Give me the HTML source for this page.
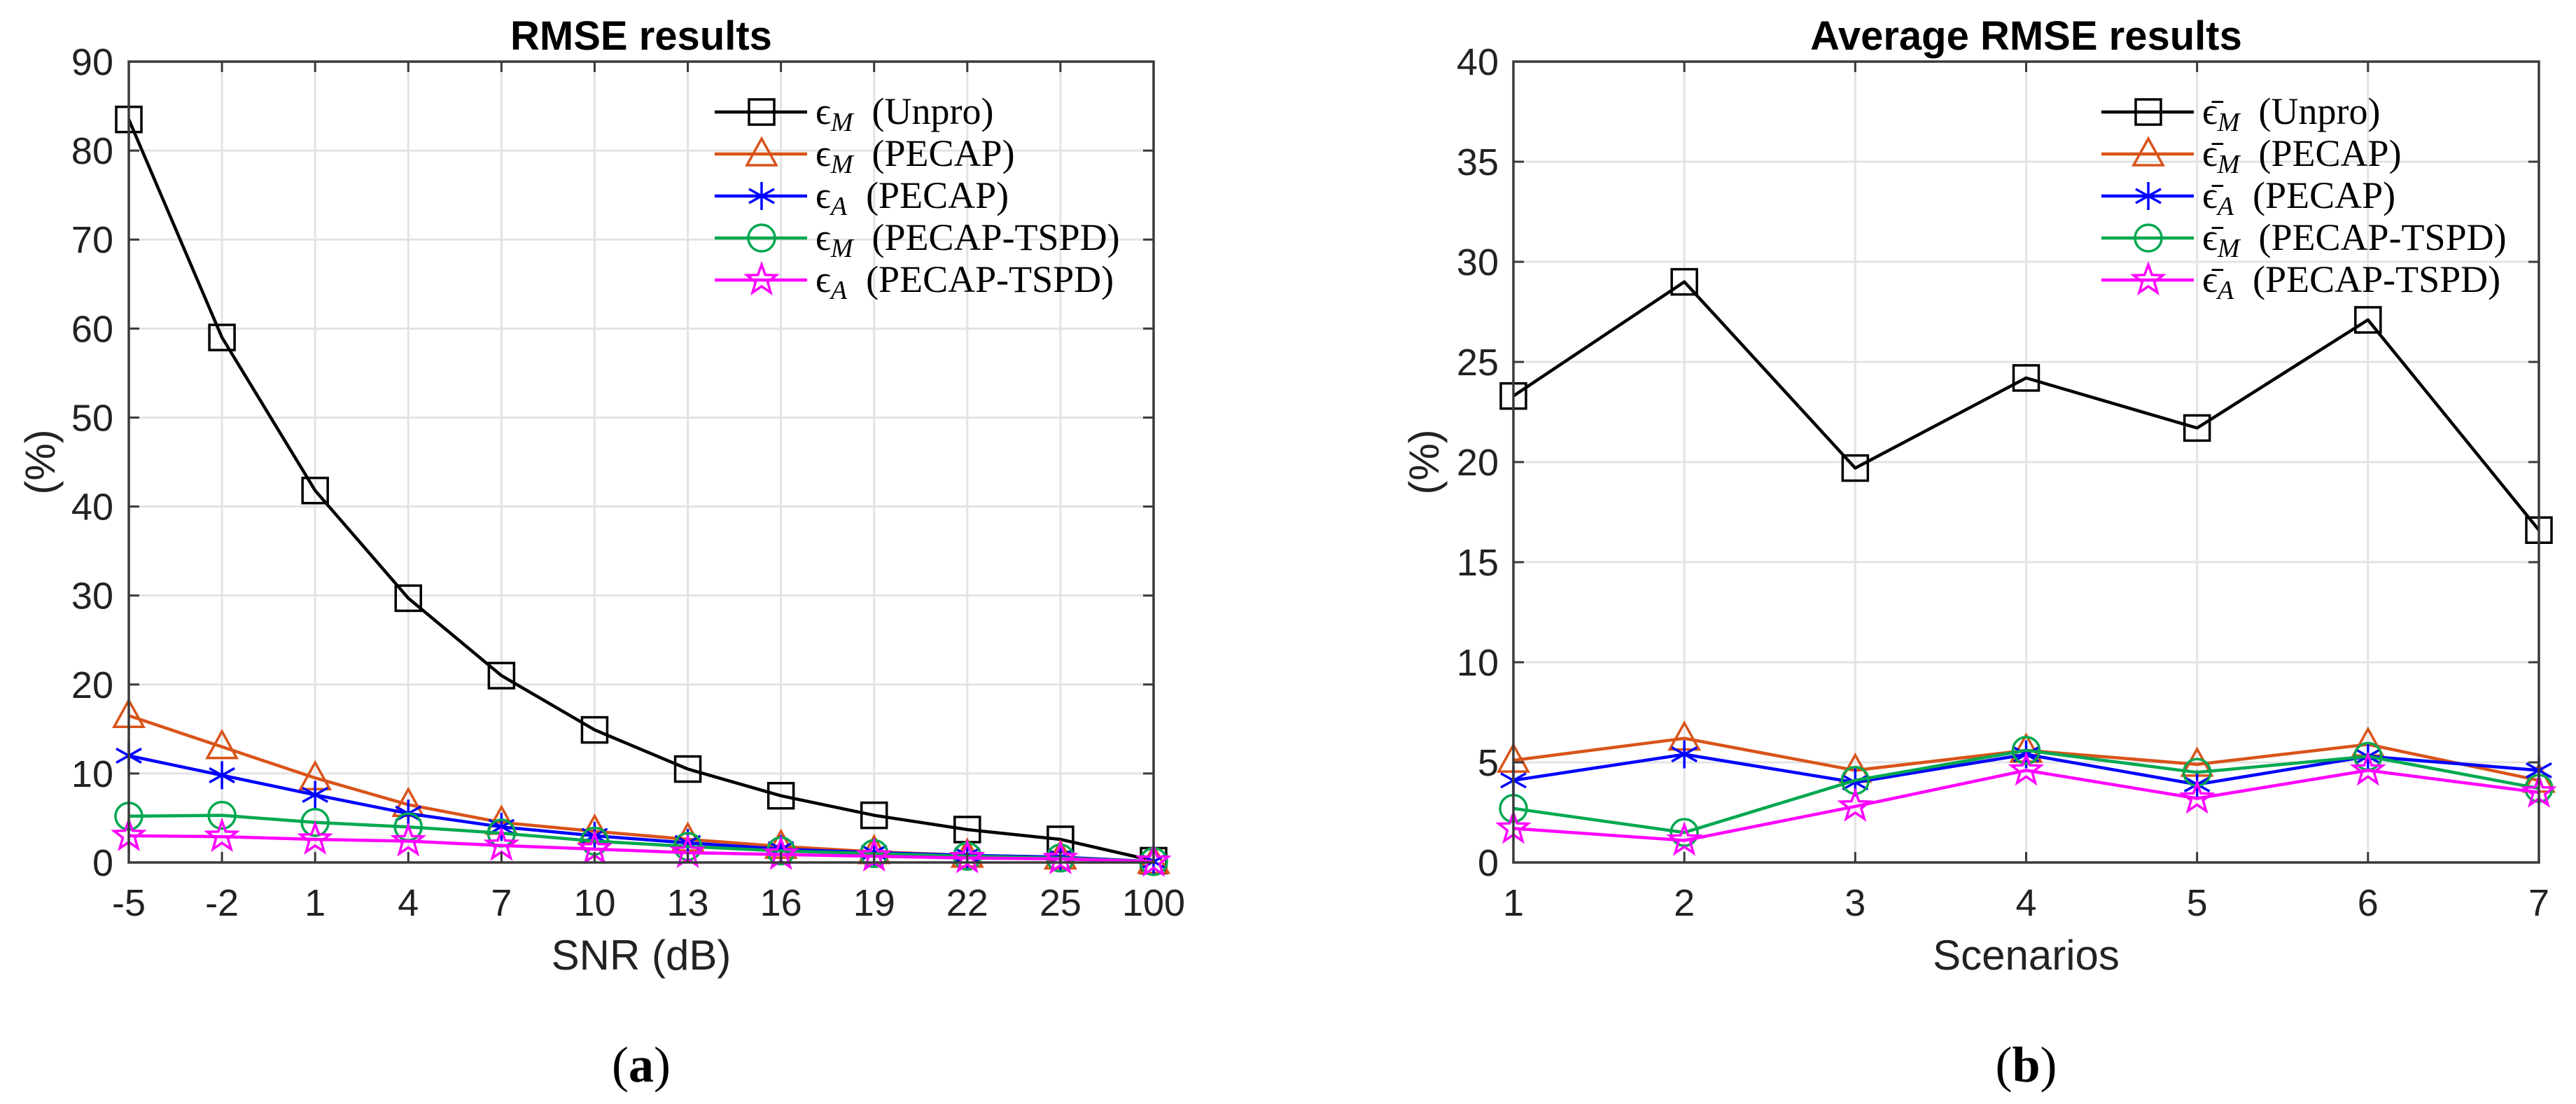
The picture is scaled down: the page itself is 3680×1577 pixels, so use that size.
<!DOCTYPE html>
<html><head><meta charset="utf-8"><style>
html,body{margin:0;padding:0;background:#fff;}
svg{display:block;}
</style></head><body>
<svg id="fig" width="3680" height="1577" viewBox="0 0 3680 1577" xmlns="http://www.w3.org/2000/svg"></svg>
<script>
// ---- Chart (a) data ----
const snrCategories = ["-5","-2","1","4","7","10","13","16","19","22","25","100"];
const aUnpro  = [83.5, 59.0, 41.8, 29.7, 21.0, 14.9, 10.5, 7.5, 5.3, 3.7, 2.6, 0.2];
const aPecapM = [16.5, 13.0, 9.5, 6.5, 4.5, 3.5, 2.6, 1.8, 1.2, 0.8, 0.6, 0.1];
const aPecapA = [12.0, 9.8, 7.6, 5.5, 4.0, 3.0, 2.2, 1.5, 1.1, 0.8, 0.6, 0.1];
const aTspdM  = [5.2, 5.3, 4.5, 4.0, 3.3, 2.4, 1.8, 1.3, 1.0, 0.7, 0.5, 0.1];
const aTspdA  = [3.0, 2.9, 2.6, 2.4, 1.9, 1.5, 1.1, 0.9, 0.7, 0.5, 0.4, 0.1];
const aYTicks = [0,10,20,30,40,50,60,70,80,90];
// ---- Chart (b) data ----
const scenCategories = ["1","2","3","4","5","6","7"];
const bUnpro  = [23.3, 29.0, 19.7, 24.2, 21.7, 27.1, 16.6];
const bPecapM = [5.1, 6.2, 4.6, 5.6, 4.9, 5.9, 4.1];
const bPecapA = [4.1, 5.4, 4.0, 5.4, 3.9, 5.3, 4.6];
const bTspdM  = [2.7, 1.5, 4.1, 5.6, 4.5, 5.3, 3.7];
const bTspdA  = [1.7, 1.1, 2.8, 4.6, 3.2, 4.6, 3.5];
const bYTicks = [0,5,10,15,20,25,30,35,40];

const NS="http://www.w3.org/2000/svg";
const svg=document.getElementById('fig');
function mk(tag,attrs,parent){const e=document.createElementNS(NS,tag);for(const k in attrs)e.setAttribute(k,attrs[k]);(parent||svg).appendChild(e);return e;}

const COLORS=["#000000","#D95319","#0000FF","#00A84F","#FF00FF"];
const MARKERS=["square","triangle","star","circle","pentagram"];

function marker(g,type,x,y,c){
  const s=18;
  if(type==="square"){return mk('rect',{x:x-s,y:y-s,width:2*s,height:2*s,fill:'none',stroke:c,'stroke-width':3.5},g);}
  if(type==="triangle"){return mk('polygon',{points:`${x},${y-22} ${x-21},${y+16} ${x+21},${y+16}`,fill:'none',stroke:c,'stroke-width':3.5},g);}
  if(type==="circle"){return mk('circle',{cx:x,cy:y,r:19,fill:'none',stroke:c,'stroke-width':3.5},g);}
  if(type==="star"){
    const d=`M${x} ${y-20}L${x} ${y+20}M${x-18} ${y-10}L${x+18} ${y+10}M${x-18} ${y+10}L${x+18} ${y-10}`;
    return mk('path',{d:d,fill:'none',stroke:c,'stroke-width':3.5},g);}
  if(type==="pentagram"){let pts=[];for(let i=0;i<10;i++){const r=i%2?9:22;const a=-Math.PI/2+i*Math.PI/5;pts.push((x+r*Math.cos(a)).toFixed(1)+","+(y+r*Math.sin(a)).toFixed(1));}
    return mk('polygon',{points:pts.join(' '),fill:'none',stroke:c,'stroke-width':3.5},g);}
}

function drawChart(cfg){
  const {L,R,T,B,cats,yticks,ymax,series,labels,title,xlabel,ylabelX,tickRight,name,legX,sub,bar}=cfg;
  const g=mk('g',{});
  
  
  const xs=i=>L+(R-L)*i/(cats.length-1);
  const ys=v=>B-(B-T)*v/ymax;
  mk('rect',{x:L,y:T,width:R-L,height:B-T,fill:'#fff'},g);
  cats.forEach((c,i)=>{const l=mk('line',{x1:xs(i),x2:xs(i),y1:T,y2:B,stroke:'#e3e3e3','stroke-width':3},g);});
  yticks.forEach(v=>{const l=mk('line',{x1:L,x2:R,y1:ys(v),y2:ys(v),stroke:'#e3e3e3','stroke-width':3},g);});
  series.forEach((data,si)=>{
    const sg=mk('g',{},g);
    
    
    const pts=data.map((v,i)=>xs(i).toFixed(1)+","+ys(v).toFixed(1)).join(' ');
    mk('polyline',{points:pts,fill:'none',stroke:COLORS[si],'stroke-width':4.5,'stroke-linejoin':'round'},sg);
    data.forEach((v,i)=>{const m=marker(sg,MARKERS[si],xs(i),ys(v),COLORS[si]);});
  });
  const bx=mk('rect',{x:L,y:T,width:R-L,height:B-T,fill:'none',stroke:'#3a3a3a','stroke-width':3.5},g);
  
  cats.forEach((c,i)=>{
    mk('line',{x1:xs(i),x2:xs(i),y1:B,y2:B-15,stroke:'#3a3a3a','stroke-width':3},g);
    mk('line',{x1:xs(i),x2:xs(i),y1:T,y2:T+15,stroke:'#3a3a3a','stroke-width':3},g);
    const t=mk('text',{x:xs(i),y:1308,'text-anchor':'middle','font-family':'Liberation Sans, sans-serif','font-size':54,fill:'#222'},g);
    t.textContent=c;
  });
  yticks.forEach(v=>{
    mk('line',{x1:L,x2:L+15,y1:ys(v),y2:ys(v),stroke:'#3a3a3a','stroke-width':3},g);
    mk('line',{x1:R,x2:R-15,y1:ys(v),y2:ys(v),stroke:'#3a3a3a','stroke-width':3},g);
    const t=mk('text',{x:tickRight,y:ys(v)+19,'text-anchor':'end','font-family':'Liberation Sans, sans-serif','font-size':54,fill:'#222'},g);
    t.textContent=String(v);
  });
  const tt=mk('text',{x:(L+R)/2,y:71,'text-anchor':'middle','font-family':'Liberation Sans, sans-serif','font-size':58,'font-weight':'bold',fill:'#000'},g);
  tt.textContent=title;
  const xl=mk('text',{x:(L+R)/2,y:1385,'text-anchor':'middle','font-family':'Liberation Sans, sans-serif','font-size':60,fill:'#222'},g);
  xl.textContent=xlabel;
  const yl=mk('text',{x:0,y:0,'text-anchor':'middle','font-family':'Liberation Sans, sans-serif','font-size':60,fill:'#222',transform:`translate(${ylabelX},660) rotate(-90)`},g);
  yl.textContent="(%)";
  const sl=mk('text',{x:(L+R)/2,y:1545,'text-anchor':'middle','font-family':'Liberation Serif, serif','font-size':72,fill:'#000'},g);
  
  const s1=mk('tspan',{},sl);s1.textContent="(";
  const s2=mk('tspan',{'font-weight':'bold'},sl);s2.textContent=sub;
  const s3=mk('tspan',{},sl);s3.textContent=")";
  const lg=mk('g',{},g);
  
  
  labels.forEach((lab,i)=>{
    const y=160+i*60;
    const e=mk('g',{},lg);
    
    
    mk('line',{x1:legX,x2:legX+132,y1:y,y2:y,stroke:COLORS[i],'stroke-width':4.5},e);
    marker(e,MARKERS[i],legX+67,y,COLORS[i]);
    const t=mk('text',{x:legX+144,y:y+17,'font-family':'Liberation Serif, serif','font-size':54,fill:'#000'},e);
    const m=lab.split('|');
    const t1=mk('tspan',{},t);t1.textContent=bar?"\u03F5\u0304":"\u03F5";
    const t2=mk('tspan',{'font-style':'italic','font-size':38,dy:10},t);t2.textContent=m[0];
    const t3=mk('tspan',{dy:-10},t);t3.textContent="\u2002"+m[1];
  });
}

drawChart({L:184,R:1648,T:88,B:1232,cats:snrCategories,yticks:aYTicks,ymax:90,
  series:[aUnpro,aPecapM,aPecapA,aTspdM,aTspdA],
  labels:["M|(Unpro)","M|(PECAP)","A|(PECAP)","M|(PECAP-TSPD)","A|(PECAP-TSPD)"],
  title:"RMSE results",xlabel:"SNR (dB)",ylabelX:78,tickRight:162,name:'chart-a-rmse',legX:1021,sub:"a",bar:false});
drawChart({L:2162,R:3627,T:88,B:1232,cats:scenCategories,yticks:bYTicks,ymax:40,
  series:[bUnpro,bPecapM,bPecapA,bTspdM,bTspdA],
  labels:["M|(Unpro)","M|(PECAP)","A|(PECAP)","M|(PECAP-TSPD)","A|(PECAP-TSPD)"],
  title:"Average RMSE results",xlabel:"Scenarios",ylabelX:2055,tickRight:2141,name:'chart-b-average-rmse',legX:3002,sub:"b",bar:true});
</script>
</body></html>
